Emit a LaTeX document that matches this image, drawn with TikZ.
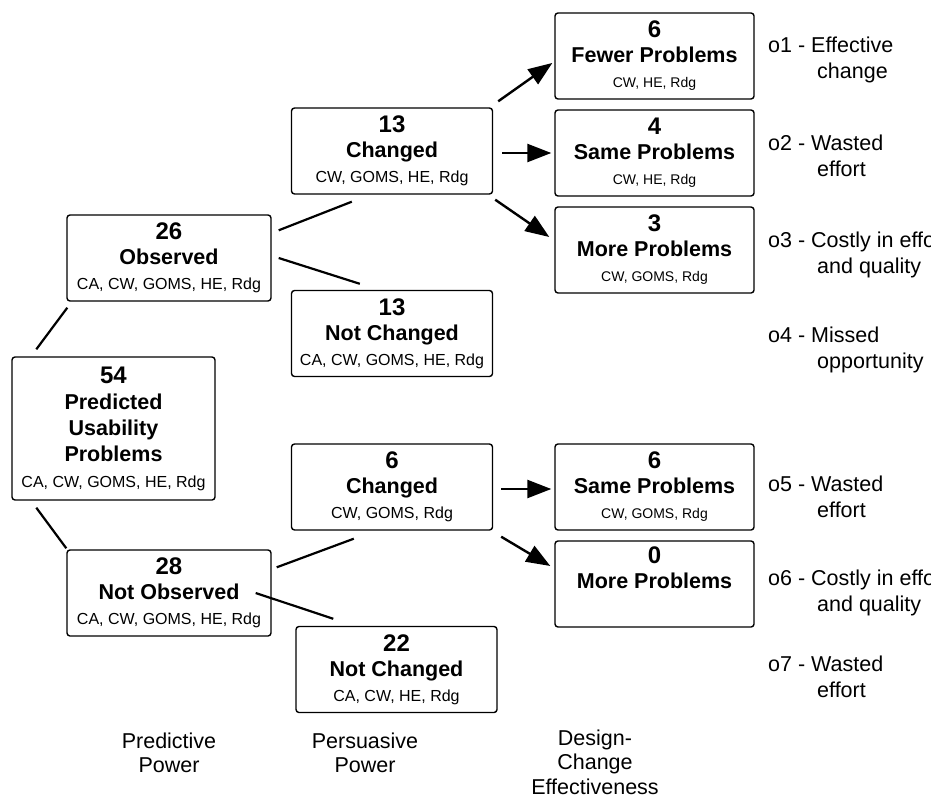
\documentclass[tikz,border=0pt]{standalone}
\usepackage{fontspec}
\setmainfont{Liberation Sans}
\usetikzlibrary{positioning, arrows.meta}

\newcommand{\numfont}{\fontsize{24}{26}\selectfont\bfseries}
\newcommand{\headfont}{\fontsize{21.5}{25}\selectfont\bfseries}
\newcommand{\probtext}[3]{{\numfont #1}\\{\headfont #2}\\#3}

\tikzstyle{probbox} = [rectangle, rounded corners=3pt, minimum width=201pt, minimum height=86pt, align=center, draw=black, line width=1.4pt, inner sep=2pt, font=\fontsize{16}{25}\selectfont]
\tikzstyle{outbox} = [probbox, minimum width=199pt, font=\fontsize{14}{25}\selectfont]
\tikzstyle{link} = [line width=2.2pt]
\tikzstyle{arrow} = [line width=2.4pt, -{Triangle[length=24pt,width=18pt]}]
\tikzstyle{outcome} = [align=left, anchor=west, inner sep=0pt, font=\fontsize{21.5}{26}\selectfont]
\tikzstyle{axis} = [align=center, inner sep=0pt, font=\fontsize{21.5}{24.5}\selectfont]

\begin{document}
\begin{tikzpicture}[x=1pt, y=-1pt, node distance=97pt]
\useasboundingbox (0,0) rectangle (931,800);

% predictive power
\node (root) [probbox, minimum width=203pt, minimum height=143pt, font=\fontsize{16}{26}\selectfont] at (113.5,428.5) {{\numfont 54}\\{\headfont Predicted}\\{\headfont Usability}\\{\headfont Problems}\\CA, CW, GOMS, HE, Rdg};
\node (obs) [probbox, minimum width=204pt] at (169,258) {\probtext{26}{Observed}{CA, CW, GOMS, HE, Rdg}};
\node (notobs) [probbox, minimum width=204pt, below of=obs, node distance=335pt] {\probtext{28}{Not Observed}{CA, CW, GOMS, HE, Rdg}};

% persuasive power
\node (changed13) [probbox] at (392,151) {\probtext{13}{Changed}{CW, GOMS, HE, Rdg}};
\node (notch13) [probbox, below of=changed13, node distance=182.5pt] {\probtext{13}{Not Changed}{CA, CW, GOMS, HE, Rdg}};
\node (changed6) [probbox] at (392,487) {\probtext{6}{Changed}{CW, GOMS, Rdg}};
\node (notch22) [probbox, below of=changed6, node distance=182.5pt, xshift=4.5pt] {\probtext{22}{Not Changed}{CA, CW, HE, Rdg}};

% design-change effectiveness
\node (fewer) [outbox] at (654.5,56) {\probtext{6}{Fewer Problems}{CW, HE, Rdg}};
\node (same) [outbox, below of=fewer] {\probtext{4}{Same Problems}{CW, HE, Rdg}};
\node (more) [outbox, below of=same] {\probtext{3}{More Problems}{CW, GOMS, Rdg}};
\node (same6) [outbox] at (654.5,487) {\probtext{6}{Same Problems}{CW, GOMS, Rdg}};
\node (more0) [outbox, below of=same6] {\probtext{0}{More Problems}{\strut}};

% outcomes
\node (o1) [outcome] at (768,60) {o1 - Effective\\\hspace*{49pt}change};
\node (o2) [outcome] at (768,156) {o2 - Wasted\\\hspace*{49pt}effort};
\node (o3) [outcome] at (768,255) {o3 - Costly in effort\\\hspace*{49pt}and quality};
\node (o4) [outcome] at (768,350) {o4 - Missed\\\hspace*{49pt}opportunity};
\node (o5) [outcome] at (768,497) {o5 - Wasted\\\hspace*{49pt}effort};
\node (o6) [outcome] at (768,593) {o6 - Costly in effort\\\hspace*{49pt}and quality};
\node (o7) [outcome] at (768,677) {o7 - Wasted\\\hspace*{49pt}effort};

% column captions
\node (predictive) [axis] at (169,753) {Predictive\\Power};
\node (persuasive) [axis] at (365,753) {Persuasive\\Power};
\node (effect) [axis] at (595,762) {Design-\\Change\\Effectiveness};

\draw [link] ([xshift=25pt,yshift=7pt]root.north west) -- ([xshift=1pt,yshift=-6pt]obs.south west);
\draw [link] ([xshift=25pt,yshift=-7pt]root.south west) -- ([yshift=1pt]notobs.north west);
\draw [link] ([xshift=7pt,yshift=-16pt]obs.north east) -- ([xshift=61pt,yshift=-7pt]changed13.south west);
\draw [link] ([xshift=7pt]obs.east) -- ([xshift=69pt,yshift=6pt]notch13.north west);
\draw [link] ([xshift=5pt,yshift=-18pt]notobs.north east) -- ([xshift=63pt,yshift=-8pt]changed6.south west);
\draw [link] ([xshift=-16pt]notobs.east) -- ([xshift=38pt,yshift=7pt]notch22.north west);

\draw [arrow] ([xshift=5pt,yshift=6pt]changed13.north east) -- ([xshift=-2pt,yshift=-7pt]fewer.west);
\draw [arrow] ([xshift=9pt,yshift=-2pt]changed13.east) -- ([xshift=-3pt]same.west);
\draw [arrow] ([xshift=2pt,yshift=-5pt]changed13.south east) -- ([xshift=-5pt,yshift=13pt]more.west);
\draw [arrow] ([xshift=8pt,yshift=-2pt]changed6.east) -- ([xshift=-3pt,yshift=-2pt]same6.west);
\draw [arrow] ([xshift=8pt,yshift=-6pt]changed6.south east) -- ([xshift=-4pt,yshift=18pt]more0.west);
\end{tikzpicture}
\end{document}
